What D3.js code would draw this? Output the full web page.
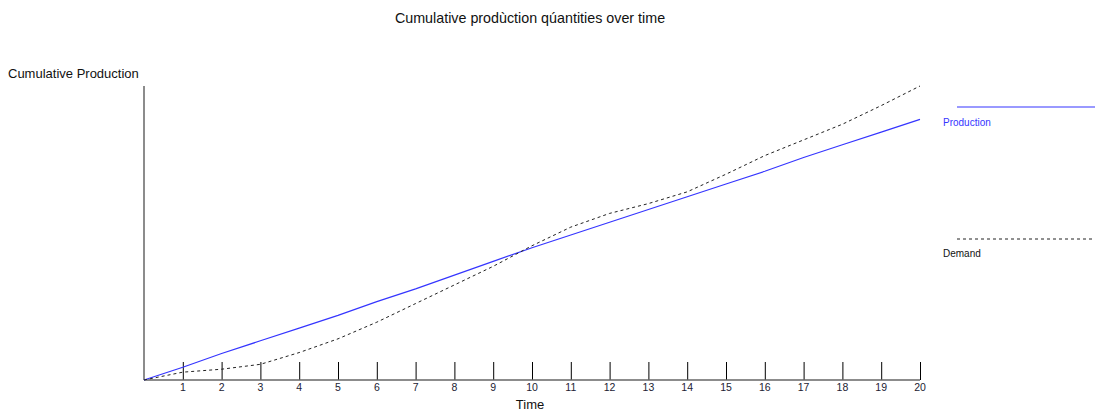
<!DOCTYPE html>
<html>
<head>
<meta charset="utf-8">
<script src="https://cdn.jsdelivr.net/npm/d3@7"></script>
<style>
  html, body { margin: 0; padding: 0; background: #fff; }
  svg { display: block; font-family: "Liberation Sans", Arial, sans-serif; }
</style>
</head>
<body>
<svg id="chart" width="1095" height="412"></svg>
<script>
const periods = d3.range(0, 21);
const tickLabels = d3.range(1, 21);
const production = [0, 13, 27, 40, 53, 66, 80, 93, 107, 121, 135, 148, 161, 174, 187, 200, 213, 227, 240, 253, 266];
const demand = [0, 8, 11, 16, 28, 42, 59, 78, 97, 116, 137, 156, 170, 180, 192, 210, 229, 245, 261, 280, 300];
const seriesNames = ["Production", "Demand"];

const svg = d3.select("#chart");
const x = d3.scaleLinear().domain([0, 20]).range([144, 920]);
const y = d3.scaleLinear().domain([0, 300]).range([380, 86]);

// Title
svg.append("text")
  .attr("x", 530).attr("y", 23)
  .attr("text-anchor", "middle")
  .attr("font-size", 14.3).attr("fill", "#111")
  .text("Cumulative produ\u0300ction qu\u0301antities over time");

// Y axis title
svg.append("text")
  .attr("x", 8).attr("y", 78)
  .attr("font-size", 13).attr("fill", "#111")
  .text("Cumulative Production");

// X axis title
svg.append("text")
  .attr("x", 530).attr("y", 409)
  .attr("text-anchor", "middle")
  .attr("font-size", 13).attr("fill", "#111")
  .text("Time");

// Ticks (upward, inside)
const xAxis = d3.axisTop(x).tickValues(tickLabels).tickSize(18).tickFormat("");
const gx = svg.append("g").attr("transform", "translate(0,380)").call(xAxis);
gx.select(".domain").remove();
gx.selectAll(".tick line").attr("stroke", "#000").attr("stroke-width", 1);

// Tick labels
svg.append("g").selectAll("text").data(tickLabels).join("text")
  .attr("x", d => x(d)).attr("y", 391)
  .attr("text-anchor", "middle")
  .attr("font-size", 10.5).attr("fill", "#223")
  .text(d => d);

// Axis lines
svg.append("line")
  .attr("x1", x(0)).attr("x2", x(20)).attr("y1", 380).attr("y2", 380)
  .attr("stroke", "#666").attr("stroke-width", 1.5);
svg.append("line")
  .attr("x1", x(0)).attr("x2", x(0)).attr("y1", y(300)).attr("y2", 380)
  .attr("stroke", "#666").attr("stroke-width", 1.5);

const line = d3.line().x((d, i) => x(periods[i])).y(d => y(d));

svg.append("path").datum(production)
  .attr("d", line).attr("fill", "none")
  .attr("stroke", "#3535ff").attr("stroke-width", 1.2);

svg.append("path").datum(demand)
  .attr("d", line).attr("fill", "none")
  .attr("stroke", "#222").attr("stroke-width", 1)
  .attr("stroke-dasharray", "3,3");

// Legend
svg.append("line").attr("x1", 957).attr("x2", 1095).attr("y1", 107).attr("y2", 107)
  .attr("stroke", "#3535ff").attr("stroke-width", 1.2);
svg.append("text").attr("x", 943).attr("y", 126).attr("font-size", 10)
  .attr("fill", "#3535ff").text(seriesNames[0]);
svg.append("line").attr("x1", 957).attr("x2", 1095).attr("y1", 239).attr("y2", 239)
  .attr("stroke", "#222").attr("stroke-width", 1).attr("stroke-dasharray", "3,3");
svg.append("text").attr("x", 943).attr("y", 257).attr("font-size", 10)
  .attr("fill", "#111").text(seriesNames[1]);
</script>
</body>
</html>
